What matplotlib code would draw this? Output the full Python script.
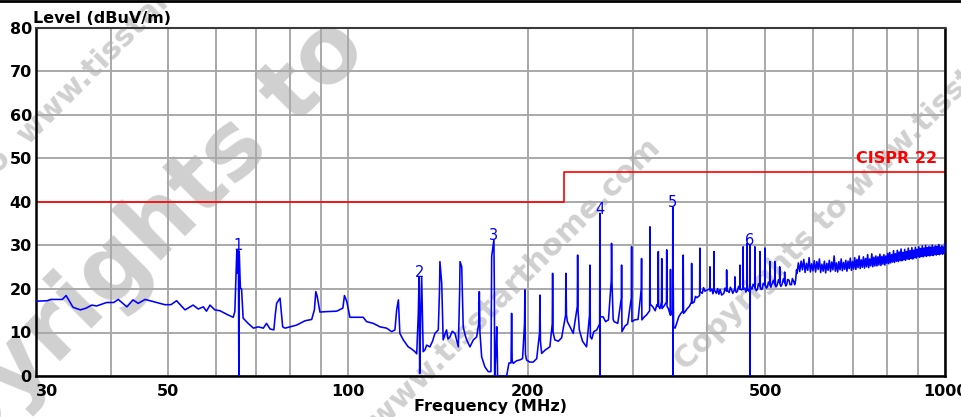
import matplotlib
matplotlib.use("Agg")
import matplotlib.pyplot as plt
from matplotlib.lines import Line2D

# ---------------- data ----------------
# measured trace (frequency MHz, level dBuV/m), read off the picture
trace_30_120 = [
    (30.0, 17.2), (31.3, 17.3), (31.8, 17.6), (33.2, 17.6), (33.7, 18.5), (34.6, 15.8),
    (35.6, 15.2), (36.4, 15.6), (37.2, 16.3), (37.9, 16.1), (39.4, 16.9), (40.5, 16.9),
    (41.2, 17.6), (42.6, 15.9), (43.6, 17.5), (44.5, 16.7), (45.7, 17.6), (47.5, 17.0),
    (49.3, 16.4), (50.5, 16.4), (51.6, 17.3), (53.3, 15.2), (55.0, 16.3), (56.1, 15.4),
    (57.2, 15.9), (57.9, 14.9), (58.7, 16.3), (59.8, 15.2), (61.0, 15.0), (63.0, 14.0),
    (64.2, 13.5), (64.6, 14.8), (64.9, 23.0), (65.1, 29.0), (65.3, 23.6), (65.5, 29.0),
    (65.6, 0.0), (65.7, 28.6), (66.0, 20.2), (66.3, 20.0), (66.7, 13.3), (68.0, 12.1),
    (69.4, 11.0), (70.7, 11.3), (72.1, 11.0), (73.0, 12.1), (74.0, 10.8), (75.1, 10.6),
    (75.5, 14.0), (75.9, 16.7), (76.9, 17.9), (77.7, 11.3), (78.4, 11.0), (82.0, 11.7),
    (84.7, 12.7), (86.9, 13.0), (87.8, 15.2), (88.3, 19.4), (88.8, 18.2), (89.7, 14.7),
    (92.0, 14.8), (95.7, 14.9), (98.0, 15.6), (98.6, 18.5), (99.5, 17.1), (100.7, 13.5),
    (106.0, 13.5), (107.4, 12.5), (110.2, 12.1), (113.1, 11.3), (116.0, 11.0),
    (118.3, 10.2), (119.8, 10.6),
]
trace_120_185 = [
    (120.6, 15.2), (121.4, 17.5), (122.1, 9.8), (123.7, 8.3), (126.1, 6.7), (127.5, 6.3),
    (129.4, 5.6), (130.3, 5.1), (131.1, 14.4), (131.5, 22.8), (131.8, 0.6), (132.3, 14.0),
    (132.8, 22.8), (133.6, 5.6), (134.5, 6.0), (135.4, 7.1), (137.1, 6.7), (138.5, 8.0),
    (139.8, 9.8), (141.6, 10.6), (142.3, 20.0), (142.5, 26.3), (143.5, 21.3), (144.3, 8.3),
    (145.2, 9.5), (146.2, 10.6), (147.0, 8.5), (148.1, 9.0), (149.5, 10.3), (151.0, 9.8),
    (153.0, 6.7), (153.8, 20.0), (154.0, 26.3), (155.0, 25.1), (155.9, 11.3), (157.0, 9.5),
    (158.0, 8.3), (160.0, 6.7), (162.1, 8.3), (164.2, 9.0), (165.5, 12.0), (165.9, 19.4),
    (166.3, 10.0), (167.4, 4.4), (169.5, 2.1), (171.7, 1.0), (173.5, 1.0), (174.0, 27.5),
    (175.5, 31.3), (175.8, 20.0), (176.0, 0.0), (176.8, 5.0), (177.4, 11.3), (177.8, 5.0),
    (178.0, 0.0), (181.0, 0.0), (184.3, 0.0),
]
trace_185_325 = [
    (186.0, 3.0), (187.5, 3.0), (187.9, 14.4), (188.3, 3.5), (189.1, 2.9), (191.5, 3.5),
    (194.0, 3.7), (196.0, 4.0), (197.5, 12.0), (197.8, 19.8), (198.2, 5.0), (199.0, 3.7),
    (201.5, 3.2), (204.2, 3.2), (207.0, 4.0), (209.3, 10.0), (209.6, 18.6), (210.0, 8.0),
    (211.0, 5.2), (214.0, 6.0), (217.8, 6.7), (219.8, 12.0), (220.1, 23.6), (220.5, 10.0),
    (222.0, 8.3), (225.0, 8.0), (227.9, 8.8), (231.4, 14.0), (231.7, 23.6), (232.2, 14.0),
    (233.0, 12.5), (236.0, 11.0), (238.3, 9.8), (242.1, 16.0), (242.4, 27.8), (242.8, 15.0),
    (244.0, 10.6), (247.0, 8.0), (250.9, 6.7), (253.8, 14.0), (254.2, 25.5), (254.6, 9.0),
    (256.0, 8.5), (258.0, 10.2), (261.0, 10.6), (263.9, 12.0), (264.1, 37.4), (264.2, 0.0),
    (264.4, 13.6), (267.5, 13.6), (270.0, 12.5), (273.0, 12.9), (276.0, 22.0), (276.3, 30.5),
    (276.7, 22.0), (278.0, 13.0), (279.0, 12.5), (283.0, 12.1), (287.0, 18.0), (287.2, 25.5),
    (287.6, 10.2), (291.0, 11.5), (294.0, 12.0), (298.2, 18.0), (298.5, 29.7), (298.9, 12.5),
    (302.0, 12.9), (306.0, 13.0), (309.9, 20.0), (310.2, 27.0), (310.6, 12.9), (313.0, 13.5),
    (316.0, 14.0), (320.0, 15.0), (320.4, 34.3), (320.8, 16.5), (324.0, 15.9),
]
trace_325_565 = [
    (327.0, 15.0), (329.0, 16.4), (330.5, 16.0), (330.9, 28.6), (331.3, 16.0), (333.0, 15.5),
    (335.0, 17.0), (335.3, 27.0), (335.7, 15.5), (338.0, 16.0), (341.5, 17.0), (341.8, 29.0),
    (342.2, 16.0), (344.0, 15.5), (346.5, 14.0), (346.8, 24.5), (347.2, 14.0), (349.7, 15.0),
    (349.9, 38.9), (350.1, 0.0), (350.3, 26.0), (351.0, 11.3), (353.0, 11.0), (356.0, 12.5),
    (358.0, 13.6), (361.0, 14.4), (364.0, 15.0), (364.3, 27.8), (364.7, 14.4), (367.0, 14.8),
    (370.0, 15.5), (373.0, 16.0), (376.0, 17.0), (376.3, 25.9), (376.7, 16.7), (380.0, 17.0),
    (382.0, 18.3), (384.0, 18.0), (388.1, 18.5), (388.4, 29.4), (388.8, 19.4), (392.0, 19.0),
    (394.0, 20.3), (396.0, 19.5), (400.0, 19.8), (403.5, 20.0), (403.8, 25.1), (404.2, 19.5),
    (407.0, 20.0), (408.5, 18.9), (410.0, 20.0), (410.2, 28.6), (410.6, 19.8), (414.0, 19.0),
    (416.0, 20.1), (418.0, 18.8), (420.0, 19.9), (422.5, 18.6), (426.0, 19.0), (428.0, 20.2),
    (430.5, 19.5), (430.7, 24.4), (431.0, 19.8), (435.0, 19.2), (437.0, 20.4), (439.0, 19.8),
    (441.0, 19.0), (444.4, 20.0), (444.6, 22.8), (445.0, 20.0), (447.0, 19.2), (449.0, 19.5),
    (451.0, 20.6), (453.1, 20.0), (453.3, 25.5), (453.6, 20.0), (456.0, 19.8), (458.8, 20.0),
    (459.0, 29.7), (459.3, 20.0), (462.0, 20.2), (464.0, 19.3), (465.9, 20.0), (466.1, 30.5),
    (466.5, 20.0), (469.0, 19.5), (470.9, 20.5), (471.0, 30.1), (471.1, 0.0), (471.3, 21.0),
    (473.0, 20.0), (475.0, 20.0), (477.0, 21.1), (480.0, 20.5), (480.2, 29.7), (480.6, 20.2),
    (483.0, 19.6), (485.0, 20.0), (487.0, 21.2), (489.5, 20.8), (489.7, 28.6), (490.1, 20.5),
    (492.0, 19.9), (494.0, 20.0), (496.0, 21.3), (498.9, 21.0), (499.1, 29.4), (499.5, 21.0),
    (502.0, 20.2), (504.0, 20.5), (506.0, 21.6), (508.7, 21.0), (508.9, 26.3), (509.3, 21.0),
    (511.0, 20.4), (513.0, 21.2), (516.0, 22.0), (518.6, 21.0), (518.8, 26.3), (519.2, 21.2),
    (521.0, 20.5), (523.0, 20.8), (526.0, 22.1), (528.3, 21.5), (528.5, 25.1), (528.9, 21.2),
    (531.0, 20.6), (533.0, 21.0), (536.0, 22.3), (538.5, 21.5), (538.7, 23.9), (539.1, 21.5),
    (541.0, 20.7), (543.0, 21.0), (545.0, 22.2), (548.0, 22.0), (550.0, 21.0), (553.0, 21.0),
    (555.0, 22.4), (558.0, 21.7), (560.0, 21.0), (562.0, 22.0), (564.0, 24.4),
]
trace_565_1000 = [
    (565, 23.6), (568, 26.0), (571, 24.0), (574, 26.4), (577, 24.4), (580, 26.8), (583, 23.8),
    (586, 25.9), (589, 24.3), (592, 27.2), (595, 23.9), (598, 25.8), (601, 24.2), (604, 26.5),
    (607, 23.9), (610, 26.3), (613, 24.5), (616, 26.9), (619, 23.8), (622, 25.7), (625, 24.1),
    (628, 26.4), (631, 23.7), (634, 25.9), (637, 24.3), (640, 26.6), (643, 24.0), (646, 26.2),
    (649, 24.4), (652, 27.6), (655, 24.1), (658, 26.0), (661, 23.9), (664, 26.3), (667, 24.4),
    (670, 26.9), (673, 24.2), (676, 26.1), (679, 24.5), (682, 26.6), (685, 24.1), (688, 26.4),
    (691, 24.7), (694, 27.1), (697, 24.3), (700, 26.3), (703, 24.6), (706, 27.2), (709, 24.5),
    (712, 26.8), (715, 24.9), (718, 27.6), (721, 24.7), (724, 26.7), (727, 25.0), (730, 27.4),
    (733, 24.8), (736, 27.0), (739, 25.1), (742, 27.9), (745, 24.9), (748, 26.9), (751, 25.3),
    (754, 28.1), (757, 25.1), (760, 27.3), (763, 25.3), (766, 27.6), (769, 25.3), (772, 27.4),
    (775, 25.5), (778, 28.0), (781, 25.4), (784, 27.5), (787, 25.7), (790, 27.9), (793, 25.5),
    (796, 27.6), (799, 25.9), (802, 28.2), (805, 25.8), (808, 28.4), (811, 26.0), (814, 27.9),
    (817, 26.2), (820, 28.8), (823, 26.1), (826, 28.1), (829, 26.4), (832, 28.9), (835, 26.3),
    (838, 28.5), (841, 26.5), (844, 29.2), (847, 26.5), (850, 28.4), (853, 26.7), (856, 29.1),
    (859, 26.6), (862, 28.6), (865, 26.9), (868, 29.4), (871, 26.8), (874, 28.8), (877, 27.0),
    (880, 29.5), (883, 26.9), (886, 28.9), (889, 27.2), (892, 29.6), (895, 27.1), (898, 29.1),
    (901, 27.4), (904, 29.7), (907, 27.3), (910, 29.3), (913, 27.5), (916, 29.9), (919, 27.4),
    (922, 29.4), (925, 27.6), (928, 30.0), (931, 27.5), (934, 29.5), (937, 27.7), (940, 29.8),
    (943, 27.6), (946, 29.6), (949, 27.8), (952, 30.1), (955, 27.7), (958, 29.6), (961, 27.9),
    (964, 29.9), (967, 27.8), (970, 29.7), (973, 28.0), (976, 30.2), (979, 27.9), (982, 29.6),
    (985, 28.1), (988, 29.9), (991, 28.0), (994, 29.6), (997, 28.3), (999, 30.6), (1000, 28.6),
]

# CISPR 22 limit line
limit_freq = [30, 230, 230, 1000]
limit_level = [40, 40, 47, 47]
limit_name = "CISPR 22"

# peak markers
marker_labels = ["1", "2", "3", "4", "5", "6"]
marker_freq = [65.5, 131.6, 175.5, 264.1, 349.9, 471.0]
marker_level = [29.0, 22.8, 31.3, 37.4, 38.9, 30.1]

# axes
x_tick_values = [30, 50, 100, 200, 500, 1000]
x_tick_labels = ["30", "50", "100", "200", "500", "1000"]
x_grid_values = [40, 60, 70, 80, 90, 300, 400, 600, 700, 800, 900]
y_tick_values = [0, 10, 20, 30, 40, 50, 60, 70, 80]
y_label = "Level (dBuV/m)"
x_label = "Frequency (MHz)"
watermark_site = "www.tisstarthome.com"
watermark_copy = "Copyrights to"

# ---------------- figure ----------------
W, H = 962, 417
fig = plt.figure(figsize=(W / 100, H / 100), dpi=100)
fig.patch.set_facecolor("white")

def fx(px):
    return px / W

def fy(py):
    return 1 - py / H

# watermark (behind the plot)
wm_color = "#d0d0d0"
wm_kw = dict(color=wm_color, fontweight="bold", family="DejaVu Sans", rotation=45,
             rotation_mode="anchor", zorder=0.2)
fig.text(fx(370), fy(52), "copyrights to", fontsize=66, ha="right", va="baseline", **wm_kw)
fig.text(fx(662), fy(150), watermark_copy.lower() + " " + watermark_site, fontsize=22,
         ha="right", va="baseline", **wm_kw)
fig.text(fx(28), fy(145), watermark_site, fontsize=22, ha="left", va="baseline", **wm_kw)
fig.text(fx(20), fy(153), watermark_copy.lower() + " ", fontsize=22, ha="right",
         va="baseline", **wm_kw)
fig.text(fx(686), fy(372), watermark_copy + " " + watermark_site, fontsize=22,
         ha="left", va="baseline", **wm_kw)

ax = fig.add_axes([fx(36), fy(376), fx(945) - fx(36), fy(28) - fy(376)])
ax.set_zorder(1)
ax.patch.set_alpha(0)
ax.set_xscale("log")
ax.set_xlim(30, 1000)
ax.set_ylim(0, 80)

ax.set_xticks(x_tick_values)
ax.set_xticklabels(x_tick_labels)
ax.set_xticks(x_grid_values, minor=True)
ax.set_xticklabels([], minor=True)
ax.set_yticks(y_tick_values)
ax.grid(True, which="both", color="#a9a9a9", linewidth=1.4, zorder=1)
ax.set_axisbelow(True)

FS = 11.5
lab_font = dict(family="DejaVu Sans", fontweight="bold", fontsize=FS)
ax.tick_params(axis="both", which="both", length=0)
ax.tick_params(axis="y", pad=3)
ax.tick_params(axis="x", pad=6)
for t in ax.get_yticklabels() + ax.get_xticklabels():
    t.set_fontfamily("DejaVu Sans"); t.set_fontweight("bold"); t.set_fontsize(FS)
ax.get_xticklabels()[0].set_horizontalalignment("left")

for side in ["left", "bottom", "right"]:
    ax.spines[side].set_linewidth(1.8)
    ax.spines[side].set_color("black")
ax.spines["top"].set_linewidth(1.5)
ax.spines["top"].set_color("#3a3a3a")

# trace
segments = trace_30_120 + trace_120_185 + trace_185_325 + trace_325_565 + trace_565_1000
freq_mhz = [p[0] for p in segments]
level_dbuv = [p[1] for p in segments]
ax.plot(freq_mhz, level_dbuv, color="#0000ff", linewidth=1.15, zorder=3, clip_on=True)

# limit line
ax.plot(limit_freq, limit_level, color="#ff0000", linewidth=1.2, zorder=2)
ax.text(970, 48.2, limit_name, color="#ff0000", ha="right", va="bottom", **lab_font)

# markers
for lab, f, lv in zip(marker_labels, marker_freq, marker_level):
    ax.annotate(lab, (f, lv), xytext=(0, 3), textcoords="offset points", ha="center",
                va="center", color="#0000ff", fontsize=10.5, family="DejaVu Sans", zorder=4)

# titles
fig.text(fx(33), fy(18.5), y_label, ha="left", va="center", zorder=3, **lab_font)
fig.text(fx(491), fy(407), x_label, ha="center", va="center", zorder=3, **lab_font)

# top border line
fig.add_artist(Line2D([0, 1], [fy(0.8), fy(0.8)], color="black", linewidth=2))

fig.savefig("out.png", dpi=100)
